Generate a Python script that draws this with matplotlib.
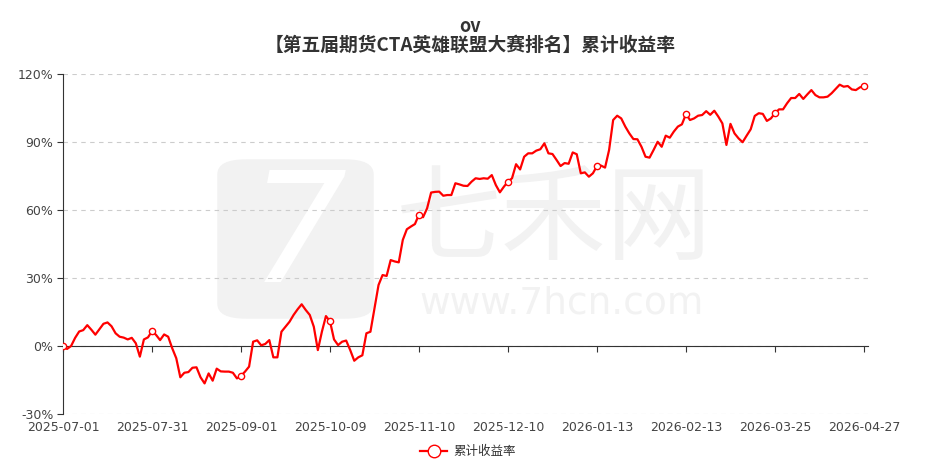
import numpy as np
import matplotlib.pyplot as plt
from matplotlib.patches import FancyBboxPatch

plt.rcParams['font.family'] = ['Noto Sans CJK SC', 'DejaVu Sans']

title_top = "ov"
title_main = "【第五届期货CTA英雄联盟大赛排名】累计收益率"
series_name = "累计收益率"

# cumulative return (%) per trading day, 2025-07-01 .. 2026-04-28
values = [
    0, -1.3, 0, 3.6, 6.4, 7.0, 9.2, 7.2, 5.0, 7.4, 9.8, 10.4, 8.7, 5.6, 4.1, 3.7, 2.9, 3.6, 1.2, -4.7, 2.9, 3.8, 6.5,
    4.9, 2.6, 5.1, 4.1, -1.0, -5.4, -13.8, -11.8, -11.5, -9.6, -9.4, -13.8, -16.5, -12.1, -15.3, -10.0, -11.2, -11.3,
    -11.3, -11.8, -14.3, -13.2, -11.3, -9.1, 1.9, 2.5, 0.3, 0.9, 2.6, -5.0, -5.0, 6.3, 8.5, 10.7, 13.7, 16.2, 18.4, 15.9,
    13.7, 8.5, -1.8, 6.3, 13.2, 10.9, 2.9, 0.4, 1.9, 2.4, -1.8, -6.5, -5.0, -4.1, 5.6, 6.3, 16.6, 26.9, 31.3, 30.9,
    37.9, 37.3, 36.9, 46.8, 51.5, 52.7, 53.8, 58.0, 56.8, 60.7, 67.7, 68.0, 68.1, 66.3, 66.6, 66.6, 71.8, 71.3, 70.7, 70.6,
    72.5, 74.0, 73.7, 74.0, 73.8, 75.4, 71.0, 67.8, 70.3, 72.5, 74.0, 80.2, 77.9, 83.5, 85.0, 85.0, 86.2, 86.8, 89.4, 85.0,
    84.7, 82.1, 79.4, 80.7, 80.4, 85.4, 84.6, 76.2, 76.6, 74.7, 76.2, 79.4, 79.6, 78.7, 86.5, 99.7, 101.6, 100.4, 96.8, 93.8,
    91.3, 91.2, 87.9, 83.5, 83.1, 86.5, 90.1, 87.9, 92.8, 91.9, 94.6, 96.8, 97.8, 102.3, 99.7, 100.4, 101.6, 101.9, 103.6, 102.0,
    103.8, 101.2, 98.2, 88.7, 98.0, 93.8, 91.6, 89.9, 92.8, 95.6, 101.5, 102.7, 102.4, 99.3, 100.4, 102.7, 104.4, 104.4, 107.1, 109.4,
    109.4, 111.2, 109.0, 111.0, 112.9, 110.7, 109.7, 109.7, 110.0, 111.5, 113.4, 115.3, 114.4, 114.7, 113.2, 112.9, 114.1, 114.7, 114.1,
]

tick_labels = ["2025-07-01", "2025-07-31", "2025-09-01", "2025-10-09", "2025-11-10",
               "2025-12-10", "2026-01-13", "2026-02-13", "2026-03-25", "2026-04-27"]
label_step = 22
y_ticks = [-30, 0, 30, 60, 90, 120]

x = np.arange(len(values))
tick_pos = x[::label_step][:len(tick_labels)]

fig = plt.figure(figsize=(9.4, 4.71), dpi=100)
ax = fig.add_axes([63/940, 1-414/471, 805/940, 340/471])
ax.set_facecolor('none')

# watermark (behind the axes)
wm = '#f2f2f2'
logo = FancyBboxPatch((218/940, 1-318/471), 155/940, 158/471,
                      boxstyle="round,pad=0,rounding_size=0.03",
                      transform=fig.transFigure, color=wm, zorder=-2)
fig.patches.append(logo)
fig.text(298/940, 1-240/471, "7", fontsize=110, color='white',
         style='italic', ha='center', va='center', family='DejaVu Sans', zorder=-1)
fig.text(554/940, 1-222/471, "七禾网", fontsize=76, color=wm, ha='center', va='center', zorder=-1)
fig.text(562/940, 1-303/471, "www.7hcn.com", fontsize=27, color=wm, ha='center', va='center',
         family='DejaVu Sans', zorder=-1)

ax.plot(x, values, color='#ff0000', lw=1.6, marker='o', markevery=label_step,
        markersize=4.5, markerfacecolor='white', markeredgecolor='#ff0000',
        markeredgewidth=1.0, label=series_name, zorder=3)

ax.set_xlim(0, len(values) - 1)
ax.set_ylim(-30, 120)
ax.set_yticks(y_ticks)
ax.set_yticklabels([f"{v}%" for v in y_ticks])
ax.yaxis.grid(True, linestyle=(0, (4, 4)), color='#cccccc', lw=0.8)
ax.set_axisbelow(True)

for s in ['top', 'right']:
    ax.spines[s].set_visible(False)
ax.spines['left'].set_color('#333333')
ax.spines['bottom'].set_position(('data', 0))
ax.spines['bottom'].set_color('#333333')
ax.spines['bottom'].set_zorder(2)

ax.set_xticks(tick_pos)
ax.tick_params(axis='x', labelbottom=False, length=4, color='#333333')
ax.tick_params(axis='y', length=4, color='#333333', labelsize=9, labelcolor='#444444', pad=3)

sec = ax.secondary_xaxis('bottom')
sec.set_xticks(tick_pos, tick_labels)
sec.tick_params(length=0, labelsize=9, labelcolor='#444444', pad=5)
sec.spines['bottom'].set_visible(False)
for t in sec.get_xticklabels():
    t.set_family('DejaVu Sans')
for t in ax.get_yticklabels():
    t.set_family('DejaVu Sans')

fig.text(0.5, 1-27/471, title_top, ha='center', va='center', fontsize=13,
         fontweight='bold', color='#333333')
fig.text(0.5, 1-45/471, title_main, ha='center', va='center', fontsize=13.5,
         fontweight='bold', color='#333333')

leg = fig.legend(loc='center', bbox_to_anchor=(468/940, 1-452/471), frameon=False,
                 fontsize=9, handlelength=2.2, handletextpad=0.5, markerscale=2.0)
for t in leg.get_texts():
    t.set_color('#333333')

fig.savefig('out.png', dpi=100)
